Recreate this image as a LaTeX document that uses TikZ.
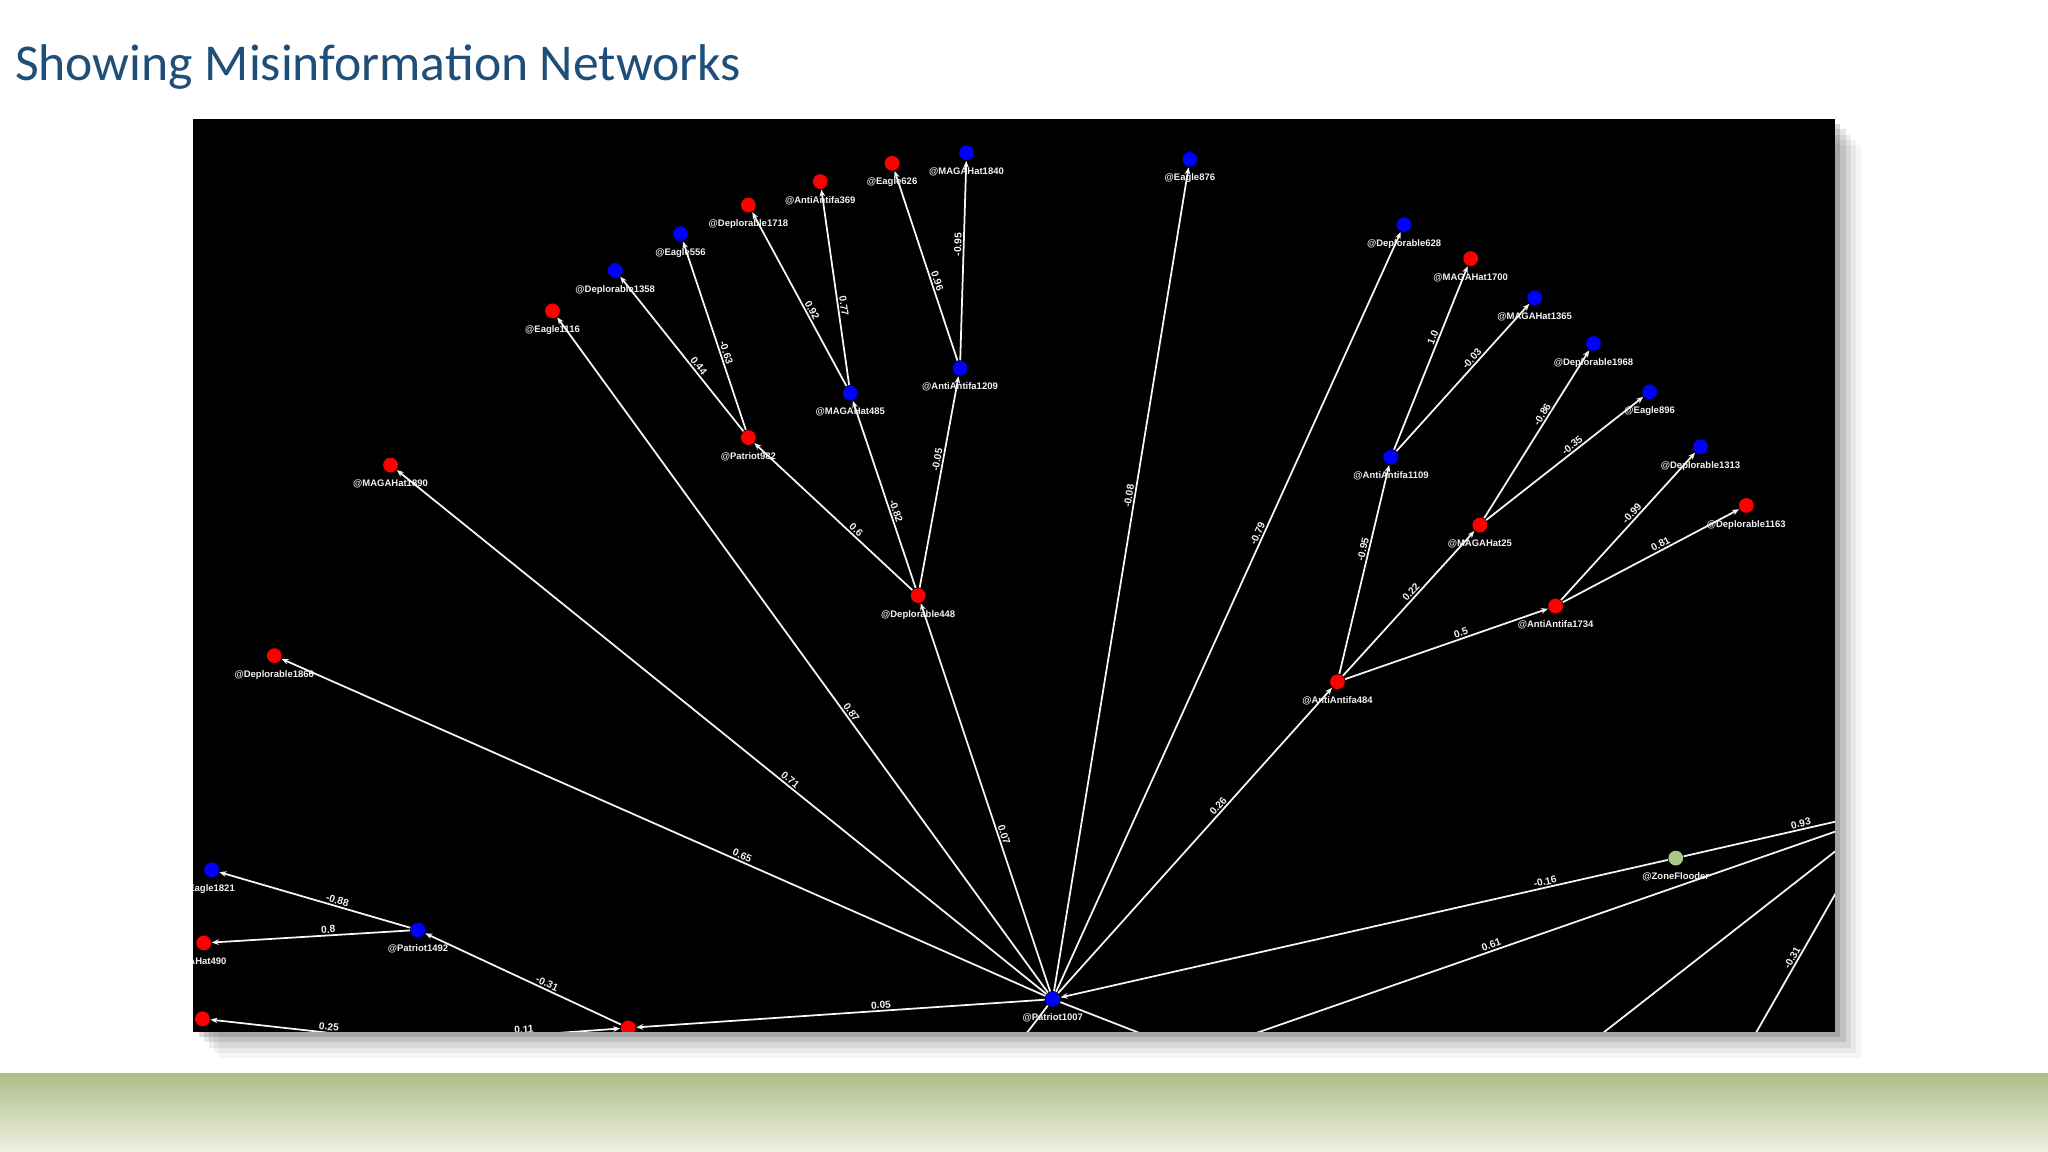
\documentclass[tikz,border=0pt]{standalone}
\usepackage{fontspec}
\setmainfont{Liberation Sans}
\newfontfamily\titlefont{Carlito}
\usetikzlibrary{arrows.meta}
\definecolor{ttl}{HTML}{1F4E79}
\definecolor{nred}{HTML}{FF0000}
\definecolor{nblue}{HTML}{0000FF}
\definecolor{ngreen}{HTML}{A9C98C}
\definecolor{bandA}{HTML}{AEBE88}
\definecolor{bandB}{HTML}{EEF1E2}
\tikzset{
  nd/.style={circle,inner sep=0pt,minimum size=4.2pt,
    label={[text=white!90!gray,font=\fontsize{2.7}{3}\selectfont\bfseries,inner sep=0.5pt,yshift=-1.2pt]below:#1}},
  rn/.style={nd={#1},fill=nred},
  bn/.style={nd={#1},fill=nblue},
  gn/.style={nd={#1},fill=ngreen},
  ed/.style={draw=white!93!gray,line width=0.5pt,-{Stealth[length=2pt,width=1.6pt]}},
  el/.style={sloped,above,inner sep=0.4pt,text=white!90!gray,font=\fontsize{2.9}{3}\selectfont\bfseries},
}
\begin{document}
\begin{tikzpicture}[x=0.013061cm,y=-0.013061cm]
\useasboundingbox (0,0) rectangle (1568,882);
\fill[white] (0,0) rectangle (1568,882);
\shade[top color=bandA,bottom color=bandB] (0,822) rectangle (1568,882);
\node[anchor=west,text=ttl,font=\titlefont\fontsize{14.7}{17}\selectfont,inner sep=0] (title) at (11,51) {Showing Misinformation Networks};
% shadow
\foreach \o/\a in {20/0.04,16/0.05,12/0.07,8/0.1,4/0.15}
  \fill[black,opacity=\a] (148+\o,91+\o) rectangle (1405+\o,790+\o);
\fill[black] (148,91) rectangle (1405,790);
\begin{scope}
\clip (148,91) rectangle (1405,790);
\node[bn={@Patriot1007}] (p1007) at (806,765) {};
\node[rn={@Deplorable448}] (d448) at (703,456) {};
\node[rn={@Patriot982}] (p982) at (573,335) {};
\node[bn={@MAGAHat485}] (m485) at (651,301) {};
\node[bn={@AntiAntifa1209}] (a1209) at (735,282) {};
\node[rn={@Eagle1116}] (e1116) at (423,238) {};
\node[bn={@Deplorable1358}] (d1358) at (471,207) {};
\node[bn={@Eagle556}] (e556) at (521,179) {};
\node[rn={@Deplorable1718}] (d1718) at (573,157) {};
\node[rn={@AntiAntifa369}] (a369) at (628,139) {};
\node[rn={@Eagle626}] (e626) at (683,125) {};
\node[bn={@MAGAHat1840}] (m1840) at (740,117) {};
\node[bn={@Eagle876}] (e876) at (911,122) {};
\node[bn={@Deplorable628}] (d628) at (1075,172) {};
\node[rn={@MAGAHat1700}] (m1700) at (1126,198) {};
\node[bn={@MAGAHat1365}] (m1365) at (1175,228) {};
\node[bn={@Deplorable1968}] (d1968) at (1220,263) {};
\node[bn={@Eagle896}] (e896) at (1263,300) {};
\node[bn={@Deplorable1313}] (d1313) at (1302,342) {};
\node[rn={@Deplorable1163}] (d1163) at (1337,387) {};
\node[bn={@AntiAntifa1109}] (a1109) at (1065,350) {};
\node[rn={@MAGAHat25}] (m25) at (1133,402) {};
\node[rn={@AntiAntifa1734}] (a1734) at (1191,464) {};
\node[rn={@AntiAntifa484}] (a484) at (1024,522) {};
\node[rn={@MAGAHat1890}] (m1890) at (299,356) {};
\node[rn={@Deplorable1866}] (d1866) at (210,502) {};
\node[bn={Eagle1821}] (e1821) at (162,666) {};
\node[rn={GAHat490}] (m490) at (156,722) {};
\node[rn={}] (rb) at (155,780) {};
\node[bn={@Patriot1492}] (p1492) at (320,712) {};
\node[rn={}] (r481) at (481,787) {};
\node[gn={@ZoneFlooder}] (zf) at (1283,657) {};
\coordinate (o1) at (783,795);
\coordinate (o2) at (883,795);
\coordinate (o3) at (1410,628);
\coordinate (o4) at (1410,635);
\coordinate (o5) at (950,795);
\coordinate (o6) at (1410,648);
\coordinate (o7) at (1222,795);
\coordinate (o8) at (1410,676);
\coordinate (o9) at (1342,795);
\coordinate (o10) at (370,795);
\coordinate (o11) at (290,795);
\draw[ed] (p1007) -- node[el,pos=0.4]{0.07} (d448);
\draw[ed] (p1007) -- node[el,pos=0.41]{0.87} (e1116);
\draw[ed] (p1007) -- node[el,pos=0.4]{0.71} (m1890);
\draw[ed] (p1007) -- node[el,pos=0.4]{0.65} (d1866);
\draw[ed] (p1007) -- node[el,pos=0.6]{-0.08} (e876);
\draw[ed] (p1007) -- node[el,pos=0.6]{-0.79} (d628);
\draw[ed] (p1007) -- node[el,pos=0.6]{0.26} (a484);
\draw[ed] (zf) -- node[el,pos=0.2]{-0.16} (p1007);
\draw[ed] (p1007) -- node[el,pos=0.4]{0.05} (r481);
\draw[ed] (d448) -- node[el,pos=0.38]{0.6} (p982);
\draw[ed] (d448) -- node[el,pos=0.4]{-0.82} (m485);
\draw[ed] (d448) -- node[el,pos=0.6]{-0.05} (a1209);
\draw[ed] (p982) -- node[el,pos=0.4]{0.44} (d1358);
\draw[ed] (p982) -- node[el,pos=0.4]{-0.63} (e556);
\draw[ed] (m485) -- node[el,pos=0.42]{0.92} (d1718);
\draw[ed] (m485) -- node[el,pos=0.4]{0.77} (a369);
\draw[ed] (a1209) -- node[el,pos=0.41]{0.96} (e626);
\draw[ed] (a1209) -- node[el,pos=0.58]{-0.95} (m1840);
\draw[ed] (a484) -- node[el,pos=0.59]{-0.95} (a1109);
\draw[ed] (a484) -- node[el,pos=0.55]{0.22} (m25);
\draw[ed] (a484) -- node[el,pos=0.58]{0.5} (a1734);
\draw[ed] (a1109) -- node[el,pos=0.6]{1.0} (m1700);
\draw[ed] (a1109) -- node[el,pos=0.6]{-0.03} (m1365);
\draw[ed] (m25) -- node[el,pos=0.6]{-0.86} (d1968);
\draw[ed] (m25) -- node[el,pos=0.57]{-0.35} (e896);
\draw[ed] (a1734) -- node[el,pos=0.56]{-0.99} (d1313);
\draw[ed] (a1734) -- node[el,pos=0.57]{0.81} (d1163);
\draw[ed] (r481) -- node[el,pos=0.39]{-0.31} (p1492);
\draw[ed] (p1492) -- node[el,pos=0.39]{-0.88} (e1821);
\draw[ed] (p1492) -- node[el,pos=0.41]{0.8} (m490);
\draw[ed,-] (p1007) -- (o1);
\draw[ed,-] (p1007) -- (o2);
\draw[ed,-] (zf) -- node[el,pos=0.75]{0.93} (o3);
\draw[ed,-] (o4) -- node[el,pos=0.58]{0.61} (o5);
\draw[ed,-] (o6) -- (o7);
\draw[ed,-] (o8) -- node[el,pos=0.5]{-0.31} (o9);
\draw[ed] (o10) -- node[el,pos=0.3]{0.11} (r481);
\draw[ed] (o11) -- node[el,pos=0.3]{0.25} (rb);
\end{scope}
\end{tikzpicture}
\end{document}
